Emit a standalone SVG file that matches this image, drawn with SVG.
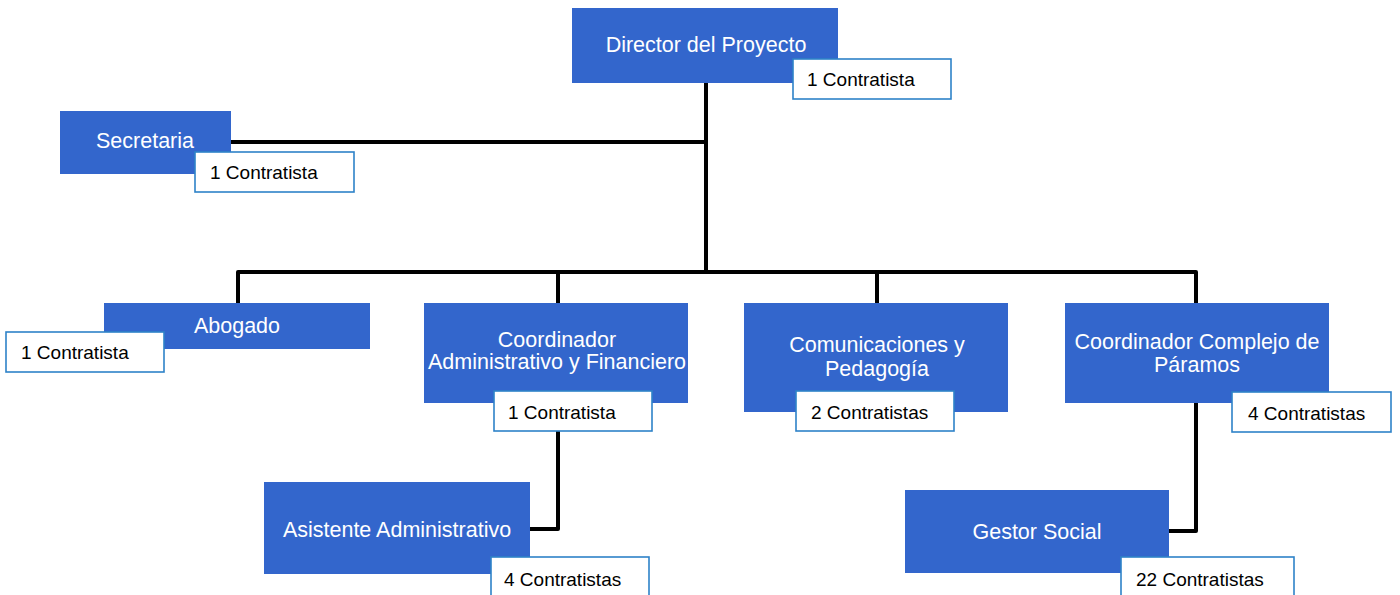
<svg xmlns="http://www.w3.org/2000/svg" width="1400" height="595" viewBox="0 0 1400 595">
<style>
.box{fill:#3366CC}
.lbl{fill:#FFFFFF;stroke:#2E82C8;stroke-width:1.6}
.t{font-family:"Liberation Sans",Arial,sans-serif;font-size:21.5px;fill:#FFFFFF;text-anchor:middle}
.c{font-family:"Liberation Sans",Arial,sans-serif;font-size:19px;fill:#000000}
.ln{fill:none;stroke:#000000;stroke-width:4;stroke-linejoin:round}
</style>
<rect width="1400" height="595" fill="#FFFFFF"/>
<g id="connectors">
<path class="ln" d="M706,83 V272"/>
<path class="ln" d="M231,142 H706"/>
<path class="ln" d="M238,303 V272 H1196 V303"/>
<path class="ln" d="M558,272 V303"/>
<path class="ln" d="M877,272 V303"/>
<path class="ln" d="M558,403 V529 H530"/>
<path class="ln" d="M1196,403 V531 H1169"/>
</g>
<g id="director">
<rect class="box" x="572" y="8" width="266" height="75"/>
<text class="t" x="706" y="52">Director del Proyecto</text>
<rect class="lbl" x="793" y="59" width="158" height="40"/>
<text class="c" x="807" y="86">1 Contratista</text>
</g>
<g id="secretaria">
<rect class="box" x="60" y="111" width="171" height="63"/>
<text class="t" x="145" y="148">Secretaria</text>
<rect class="lbl" x="195" y="152" width="159" height="40"/>
<text class="c" x="210" y="179">1 Contratista</text>
</g>
<g id="abogado">
<rect class="box" x="104" y="303" width="266" height="46"/>
<text class="t" x="237" y="333">Abogado</text>
<rect class="lbl" x="6" y="332" width="158" height="40"/>
<text class="c" x="21" y="359">1 Contratista</text>
</g>
<g id="coord-admin">
<rect class="box" x="424" y="303" width="264" height="100"/>
<text class="t" x="557" y="347">Coordinador</text>
<text class="t" x="557" y="369">Administrativo y Financiero</text>
<rect class="lbl" x="494" y="391" width="158" height="40"/>
<text class="c" x="508" y="419">1 Contratista</text>
</g>
<g id="comunicaciones">
<rect class="box" x="744" y="303" width="264" height="109"/>
<text class="t" x="877" y="352">Comunicaciones y</text>
<text class="t" x="877" y="376">Pedagogía</text>
<rect class="lbl" x="796" y="391" width="158" height="40"/>
<text class="c" x="811" y="419">2 Contratistas</text>
</g>
<g id="coord-paramos">
<rect class="box" x="1065" y="303" width="264" height="100"/>
<text class="t" x="1197" y="349">Coordinador Complejo de</text>
<text class="t" x="1197" y="372">Páramos</text>
<rect class="lbl" x="1232" y="392" width="159" height="40"/>
<text class="c" x="1248" y="420">4 Contratistas</text>
</g>
<g id="asistente">
<rect class="box" x="264" y="482" width="266" height="92"/>
<text class="t" x="397" y="537">Asistente Administrativo</text>
<rect class="lbl" x="491" y="557" width="158" height="42"/>
<text class="c" x="504" y="586">4 Contratistas</text>
</g>
<g id="gestor">
<rect class="box" x="905" y="490" width="264" height="83"/>
<text class="t" x="1037" y="539">Gestor Social</text>
<rect class="lbl" x="1121" y="557" width="173" height="42"/>
<text class="c" x="1136" y="586">22 Contratistas</text>
</g>
</svg>
